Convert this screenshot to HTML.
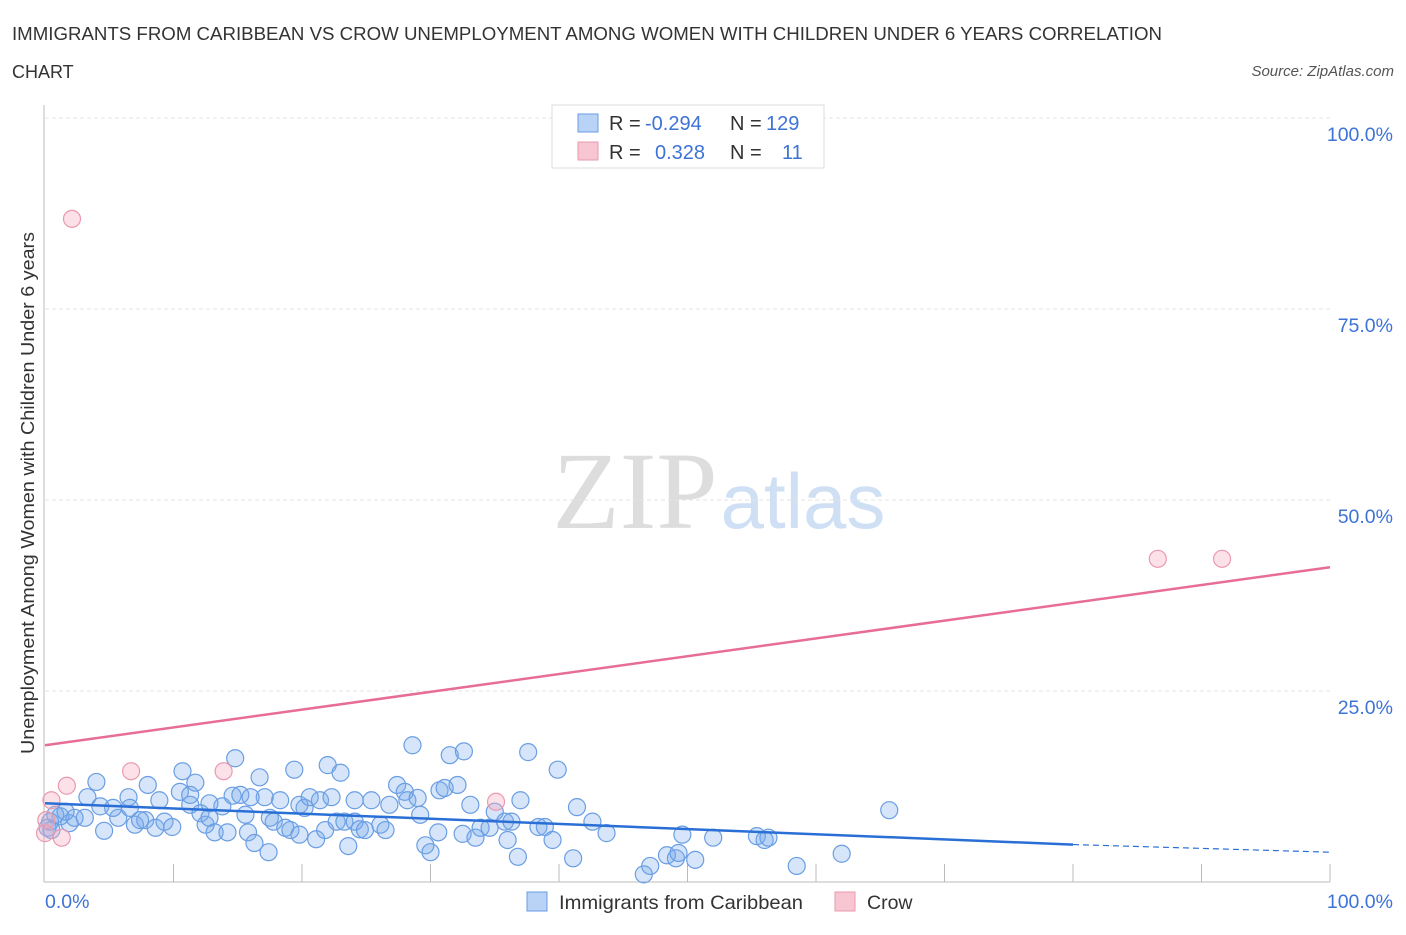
<!DOCTYPE html>
<html><head><meta charset="utf-8"><style>
body{margin:0;background:#fff;font-family:"Liberation Sans",sans-serif;}
</style></head><body>
<svg width="1406" height="930" xmlns="http://www.w3.org/2000/svg" style="font-family:'Liberation Sans',sans-serif">
<text x="12" y="40" font-size="18" fill="#333" textLength="1150" lengthAdjust="spacingAndGlyphs">IMMIGRANTS FROM CARIBBEAN VS CROW UNEMPLOYMENT AMONG WOMEN WITH CHILDREN UNDER 6 YEARS CORRELATION</text>
<text x="12" y="78" font-size="18" fill="#333">CHART</text>
<text x="1394" y="76" font-size="15" fill="#555" font-style="italic" text-anchor="end">Source: ZipAtlas.com</text>
<g>
<text x="635" y="528" font-size="110" font-family="'Liberation Serif',serif" fill="#ddd" text-anchor="middle">ZIP</text>
<text x="803" y="528" font-size="78" fill="#cfe0f5" text-anchor="middle">atlas</text>
</g>
<g id="grid"></g>
<g id="axes"></g>
<g id="marks"></g>
<text transform="translate(34,493) rotate(-90)" font-size="18" fill="#333" text-anchor="middle" textLength="522" lengthAdjust="spacingAndGlyphs">Unemployment Among Women with Children Under 6 years</text>
<g>
<rect x="552" y="105" width="272" height="63" fill="#fff" stroke="#ddd"/>
<rect x="578" y="114" width="20" height="18" fill="#b8d3f5" stroke="#6a9ee3"/>
<rect x="578" y="142" width="20" height="18" fill="#f8c6d3" stroke="#e99ab0"/>
<text x="609" y="130" font-size="20" fill="#333">R =</text><text x="645" y="130" font-size="20" fill="#3d73d6">-0.294</text>
<text x="730" y="130" font-size="20" fill="#333">N =</text><text x="766" y="130" font-size="20" fill="#3d73d6">129</text>
<text x="609" y="159" font-size="20" fill="#333">R =</text><text x="655" y="159" font-size="20" fill="#3d73d6">0.328</text>
<text x="730" y="159" font-size="20" fill="#333">N =</text><text x="782" y="159" font-size="20" fill="#3d73d6">11</text>
</g>
<g>
<rect x="527" y="892" width="20" height="19" fill="#b8d3f5" stroke="#6a9ee3"/>
<text x="559" y="909" font-size="19.5" fill="#333" textLength="244" lengthAdjust="spacingAndGlyphs">Immigrants from Caribbean</text>
<rect x="835" y="892" width="20" height="19" fill="#f8c6d3" stroke="#e99ab0"/>
<text x="867" y="909" font-size="19.5" fill="#333">Crow</text>
</g>
</svg>
<script>
const blueX=[4.0,3.3,4.3,1.2,0.4,1.9,2.3,3.1,4.6,5.7,6.5,8.0,6.6,7.0,7.8,8.9,8.6,9.3,9.9,10.7,10.5,11.3,11.7,11.3,12.1,12.5,12.8,13.2,13.8,14.2,14.8,14.6,15.2,15.6,15.8,16.3,16.7,17.1,17.5,17.8,18.3,17.4,18.7,19.1,19.4,19.8,20.2,20.6,21.1,21.4,22.0,22.3,23.0,22.7,23.3,23.6,24.1,24.5,24.9,25.4,26.1,26.5,26.8,27.4,28.0,28.2,28.6,29.0,29.6,30.0,30.7,31.1,31.5,32.1,32.6,30.6,32.5,33.5,33.9,34.6,35.0,35.8,36.0,36.3,36.8,37.0,37.6,38.4,38.9,39.5,39.9,41.1,41.4,42.6,43.7,46.6,47.1,48.4,49.1,49.3,50.6,49.6,52.0,55.4,56.0,56.3,58.5,62.0,65.7,0.2,0.5,0.8,1.6,5.3,7.4,12.8,16.0,19.8,21.8,24.1,29.2,33.1];
const blueY=[13.1,11.1,9.9,8.6,7.9,7.7,8.4,8.4,6.7,8.4,11.1,12.7,9.7,7.5,8.1,10.7,7.1,7.9,7.2,14.5,11.8,11.4,13.0,10.1,9.0,7.5,8.4,6.5,9.9,6.5,16.2,11.3,11.4,8.8,6.5,5.1,13.7,11.1,8.4,7.9,10.7,3.9,7.1,6.8,14.7,10.1,9.7,11.1,5.6,10.7,15.3,11.1,14.3,7.9,7.9,4.7,7.9,6.9,6.8,10.7,7.5,6.8,10.1,12.7,11.8,10.7,17.9,11.0,4.8,3.9,12.0,12.3,16.6,12.7,17.1,6.5,6.3,5.8,7.1,7.1,9.2,7.9,5.5,7.9,3.3,10.7,17.0,7.2,7.2,5.5,14.7,3.1,9.8,7.9,6.4,1.0,2.1,3.5,3.1,3.8,2.9,6.2,5.8,6.0,5.5,5.8,2.1,3.7,9.4,7.1,6.8,8.8,9.2,9.7,8.1,10.3,11.1,6.2,6.8,10.7,8.8,10.1];
const pinkX=[2.1,0.0,0.5,1.3,1.7,6.7,13.9,35.1,86.6,91.6,0.1];
const pinkY=[86.8,6.4,10.7,5.8,12.6,14.5,14.5,10.5,42.3,42.3,8.1];
const blueTrend=[10.3,4.9,3.9]; // at x=0, 80 (solid end), 100
const pinkTrend=[17.9,41.2];
const yTicks=[25,50,75,100];
const xTickLabels=["0.0%","100.0%"];
const NS="http://www.w3.org/2000/svg";
const sx=v=>45+v*12.85, sy=v=>882-v*7.64;
function mk(tag,attrs,parent){const e=document.createElementNS(NS,tag);for(const k in attrs)e.setAttribute(k,attrs[k]);parent.appendChild(e);return e;}
const grid=document.getElementById('grid'),axes=document.getElementById('axes'),marks=document.getElementById('marks');
yTicks.forEach(t=>{
 const l=mk('line',{x1:45,x2:1330,y1:sy(t),y2:sy(t),stroke:'#e3e3e3','stroke-dasharray':'4,3'},grid);
 
 
 const tx=mk('text',{x:1393,y:sy(t)+23,'font-size':19.5,fill:'#3d73d6','text-anchor':'end'},axes);
 tx.textContent=t.toFixed(1)+'%';
 
 
});
mk('line',{x1:44,x2:44,y1:105,y2:882,stroke:'#bbb'},axes);
mk('line',{x1:44,x2:1330,y1:882,y2:882,stroke:'#bbb'},axes);
for(let i=1;i<=10;i++){const l=mk('line',{x1:sx(i*10),x2:sx(i*10),y1:864,y2:882,stroke:'#bbb'},axes);
 
 }
[[0,'start',45],[1,'end',1393]].forEach(([i,a,x])=>{const t=mk('text',{x:x,y:908,'font-size':19.5,fill:'#3d73d6','text-anchor':a},axes);t.textContent=xTickLabels[i];
 
 });
blueX.forEach((x,i)=>{const c=mk('circle',{cx:sx(x),cy:sy(blueY[i]),r:8.5,fill:'rgba(120,170,235,0.3)',stroke:'#6a9ee3','stroke-width':1.2},marks);
 
 });
pinkX.forEach((x,i)=>{const c=mk('circle',{cx:sx(x),cy:sy(pinkY[i]),r:8.5,fill:'rgba(245,170,190,0.35)',stroke:'#e99ab0','stroke-width':1.2},marks);
 
 });
let t1=mk('line',{x1:sx(0),y1:sy(blueTrend[0]),x2:sx(80),y2:sy(blueTrend[1]),stroke:'#2a6fd6','stroke-width':2.5},marks);


let t2=mk('line',{x1:sx(80),y1:sy(blueTrend[1]),x2:sx(100),y2:sy(blueTrend[2]),stroke:'#2a6fd6','stroke-width':1.2,'stroke-dasharray':'6,4'},marks);


let t3=mk('line',{x1:sx(0),y1:sy(pinkTrend[0]),x2:sx(100),y2:sy(pinkTrend[1]),stroke:'#e76d98','stroke-width':2.5},marks);


</script>
</body></html>
